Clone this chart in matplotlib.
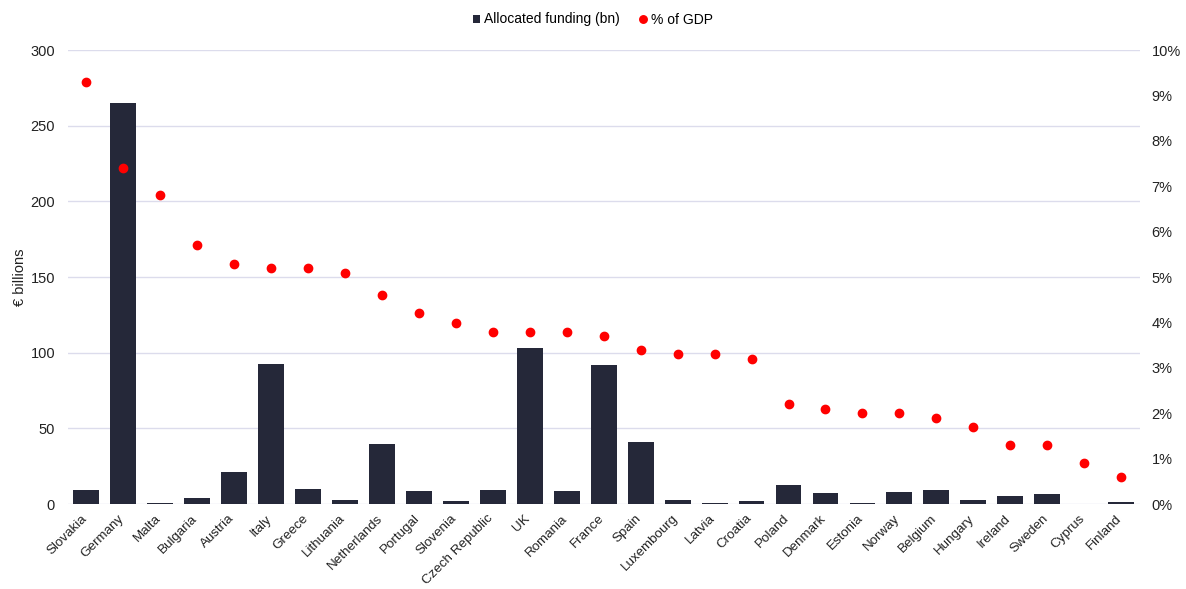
import numpy as np
import matplotlib as mpl
mpl.use('Agg')
import matplotlib.pyplot as plt
import matplotlib.transforms as mtransforms
from matplotlib.ticker import FuncFormatter

plt.rcParams['font.family'] = ['Liberation Sans', 'DejaVu Sans']

countries = ['Slovakia', 'Germany', 'Malta', 'Bulgaria', 'Austria', 'Italy', 'Greece',
             'Lithuania', 'Netherlands', 'Portugal', 'Slovenia', 'Czech Republic', 'UK',
             'Romania', 'France', 'Spain', 'Luxembourg', 'Latvia', 'Croatia', 'Poland',
             'Denmark', 'Estonia', 'Norway', 'Belgium', 'Hungary', 'Ireland', 'Sweden',
             'Cyprus', 'Finland']
funding_bn = [9.3, 265, 1.0, 4.0, 21.5, 92.5, 10.0, 3.0, 39.5, 9.0, 2.0, 9.3, 103,
              9.0, 92, 41, 2.5, 1.0, 2.0, 12.5, 7.3, 0.5, 8.0, 9.3, 2.8, 5.5, 7.0,
              0.3, 1.5]
pct_gdp = [9.3, 7.4, 6.8, 5.7, 5.3, 5.2, 5.2, 5.1, 4.6, 4.2, 4.0, 3.8, 3.8, 3.8,
           3.7, 3.4, 3.3, 3.3, 3.2, 2.2, 2.1, 2.0, 2.0, 1.9, 1.7, 1.3, 1.3, 0.9, 0.6]

bar_col = '#252839'
dot_col = '#ff0000'
grid_col = '#dcdcec'

fig = plt.figure(figsize=(11.86, 5.89), dpi=100)
ax = fig.add_axes([0.057, 0.144, 0.904, 0.771])
x = np.arange(len(countries))

ax.bar(x, funding_bn, width=0.7, color=bar_col, zorder=3,
       label='Allocated funding (bn)')
ax.set_ylim(0, 300)
ax.set_yticks(np.arange(0, 301, 50))
ax.set_xlim(-0.5, len(countries) - 0.5)
ax.yaxis.grid(True, color=grid_col, linewidth=1, zorder=0)
ax.set_axisbelow(True)
for s in ax.spines.values():
    s.set_visible(False)
ax.tick_params(axis='both', length=0, labelsize=10.5, colors='#222222')
ax.tick_params(axis='y', pad=9)
ax.tick_params(axis='x', pad=6, labelsize=9.6)
ax.set_xticks(x)
ax.set_xticklabels(countries, rotation=45, ha='right', rotation_mode='anchor')
# nudge the rotated labels a little to the left
shift = mtransforms.ScaledTranslation(-4 / 72, 0, fig.dpi_scale_trans)
for lbl in ax.get_xticklabels():
    lbl.set_transform(lbl.get_transform() + shift)
ax.set_ylabel('€ billions', fontsize=10.5, color='#222222')
ax.yaxis.set_label_coords(-0.038, 0.5)

ax2 = ax.twinx()
ax2.set_position(ax.get_position())
ax2.plot(x, pct_gdp, 'o', color=dot_col, markersize=6, zorder=4,
         label='% of GDP', linestyle='none')
ax2.set_ylim(0, 10)
ax2.set_yticks(np.arange(0, 11, 1))
ax2.yaxis.set_major_formatter(FuncFormatter(lambda v, p: '%d%%' % v))
for s in ax2.spines.values():
    s.set_visible(False)
ax2.tick_params(axis='y', length=0, labelsize=10.5, colors='#222222', pad=8.5)

h1, l1 = ax.get_legend_handles_labels()
h2, l2 = ax2.get_legend_handles_labels()
fig.legend(h1 + h2, l1 + l2, loc='upper center', bbox_to_anchor=(0.5, 1.0),
           ncol=2, frameon=False, fontsize=10, handlelength=0.5,
           handleheight=0.5, handletextpad=0.3, columnspacing=1.4,
           markerscale=0.9)

fig.savefig('out.png', dpi=100)
